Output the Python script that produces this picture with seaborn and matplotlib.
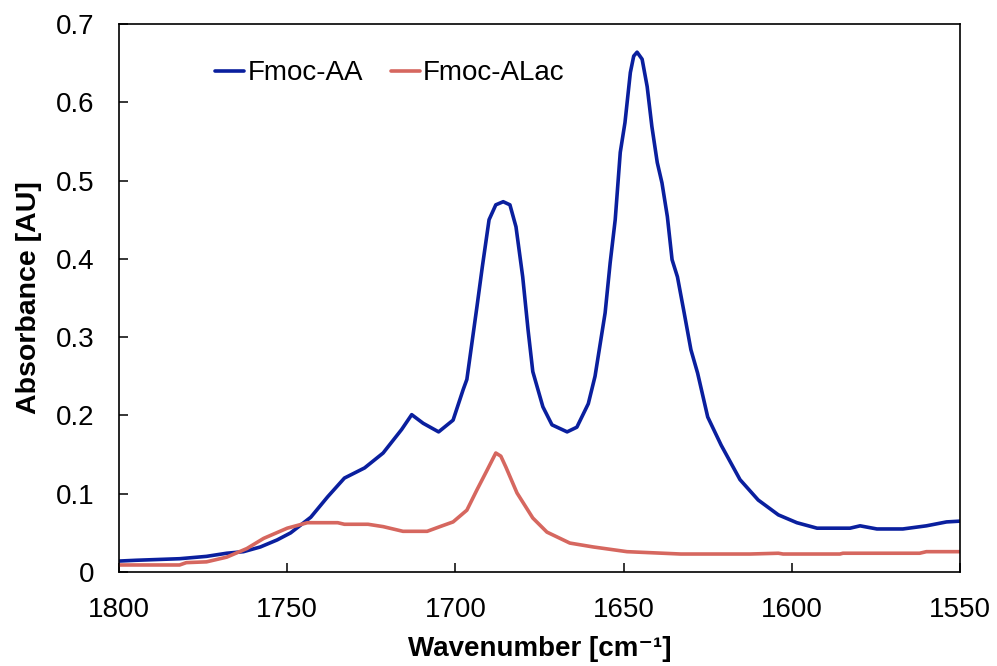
import pandas as pd
import seaborn as sns
import matplotlib.pyplot as plt

# Fmoc-AA spectrum (wavenumber in cm-1, absorbance in AU)
aa_wavenumber = [1800, 1795, 1782, 1774, 1768, 1763, 1758, 1753, 1749, 1743,
                 1738, 1733, 1727, 1721.5, 1716, 1713, 1709.6, 1705, 1700.7, 1697.7,
                 1696.6, 1693.6, 1692, 1690, 1688, 1685.8, 1683.8, 1682, 1680, 1678.4,
                 1677, 1674, 1671.3, 1666.8, 1663.9, 1660.5, 1658.5, 1655.5, 1654, 1652.5,
                 1651, 1649.6, 1648, 1647, 1646, 1644.5, 1643, 1641.6, 1640, 1638.6,
                 1637, 1635.6, 1634, 1632, 1630, 1628, 1625, 1621, 1615.4, 1610,
                 1604, 1598.5, 1592.5, 1582.7, 1579.7, 1574.7, 1567, 1560, 1554, 1550]
aa_absorbance = [0.014, 0.015, 0.017, 0.020, 0.024, 0.026, 0.032, 0.041, 0.050, 0.070,
                 0.096, 0.120, 0.133, 0.152, 0.182, 0.201, 0.190, 0.179, 0.194, 0.233,
                 0.246, 0.339, 0.390, 0.450, 0.469, 0.473, 0.469, 0.441, 0.377, 0.309,
                 0.256, 0.211, 0.188, 0.179, 0.185, 0.215, 0.250, 0.331, 0.395, 0.450,
                 0.536, 0.574, 0.638, 0.659, 0.664, 0.655, 0.620, 0.569, 0.523, 0.497,
                 0.454, 0.399, 0.377, 0.331, 0.284, 0.254, 0.198, 0.162, 0.118, 0.092,
                 0.073, 0.063, 0.056, 0.056, 0.059, 0.055, 0.055, 0.059, 0.064, 0.065]

# Fmoc-ALac spectrum
alac_wavenumber = [1800, 1782, 1780, 1774, 1768, 1762, 1757, 1750, 1744, 1735,
                   1733, 1726, 1721.5, 1715.6, 1708.4, 1704.6, 1700.7, 1696.6, 1693.6, 1690.6,
                   1688, 1686.5, 1685, 1681.7, 1677, 1672.8, 1666, 1659, 1649, 1633,
                   1612.4, 1604, 1602.6, 1585.7, 1584.8, 1562, 1560, 1550]
alac_absorbance = [0.009, 0.009, 0.012, 0.013, 0.019, 0.030, 0.043, 0.056, 0.063, 0.063,
                   0.061, 0.061, 0.058, 0.052, 0.052, 0.058, 0.064, 0.079, 0.105, 0.130,
                   0.152, 0.148, 0.134, 0.101, 0.069, 0.051, 0.037, 0.032, 0.026, 0.023,
                   0.023, 0.024, 0.023, 0.023, 0.024, 0.024, 0.026, 0.026]

series_names = ["Fmoc-AA", "Fmoc-ALac"]
series_colors = ["#0A1F9E", "#D6675F"]
x_ticks = [1800, 1750, 1700, 1650, 1600, 1550]
y_ticks = [0, 0.1, 0.2, 0.3, 0.4, 0.5, 0.6, 0.7]
y_tick_labels = ["0", "0.1", "0.2", "0.3", "0.4", "0.5", "0.6", "0.7"]

df = pd.concat([
    pd.DataFrame({"wavenumber": aa_wavenumber, "absorbance": aa_absorbance, "series": series_names[0]}),
    pd.DataFrame({"wavenumber": alac_wavenumber, "absorbance": alac_absorbance, "series": series_names[1]}),
])

sns.set_style("ticks")
plt.rcParams["font.family"] = ["Liberation Sans", "DejaVu Sans"]
plt.rcParams["text.color"] = "black"
plt.rcParams["axes.labelcolor"] = "black"
plt.rcParams["xtick.color"] = "black"
plt.rcParams["ytick.color"] = "black"

fig = plt.figure(figsize=(9.97, 6.66), dpi=100)
ax = fig.add_axes([0.1194, 0.1411, 0.8435, 0.8229])

sns.lineplot(data=df, x="wavenumber", y="absorbance", hue="series",
             hue_order=series_names, palette=series_colors,
             estimator=None, linewidth=2.6, ax=ax)

ax.set_xlim(1800, 1550)
ax.set_ylim(0, 0.7)
ax.set_xticks(x_ticks)
ax.set_xticklabels([str(t) for t in x_ticks])
ax.set_yticks(y_ticks)
ax.set_yticklabels(y_tick_labels)
ax.tick_params(direction="in", length=6.5, width=1.1, labelsize=20, pad=18,
               color="black", labelcolor="black")

for sp in ax.spines.values():
    sp.set_visible(True)
    sp.set_linewidth(1.2)
    sp.set_color("black")

ax.set_xlabel("Wavenumber [cm\u207b\u00b9]", fontsize=20, fontweight="bold", labelpad=9)
ax.set_ylabel("Absorbance [AU]", fontsize=20.5, fontweight="bold", labelpad=10)

handles, labels = ax.get_legend_handles_labels()
ax.legend(handles, labels, loc="center left", bbox_to_anchor=(0.114, 0.91), ncol=2,
          frameon=False, fontsize=20, handlelength=1.05, handletextpad=0.12,
          columnspacing=1.0, borderpad=0, borderaxespad=0)

fig.savefig("out.png", dpi=100)
